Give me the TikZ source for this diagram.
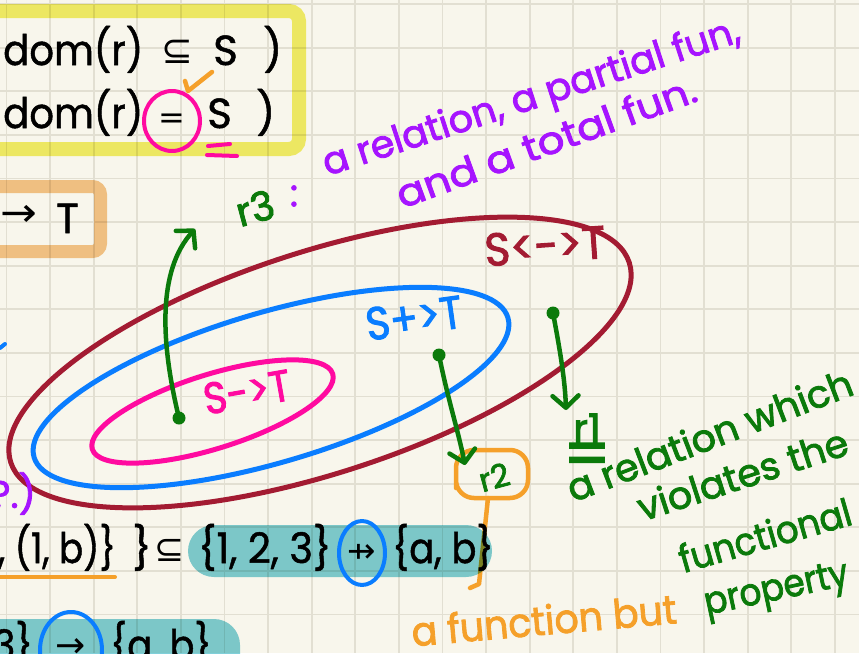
\documentclass[tikz,border=0pt]{standalone}
\usepackage{fontspec}
\setmainfont{Poppins}[FakeBold=1.2]
\newfontfamily\handfont{Poppins}[FakeBold=2.2]
\newfontfamily\symfont{DejaVu Sans}
\usetikzlibrary{arrows.meta}

\definecolor{paper}{HTML}{F8F6EC}
\definecolor{gridline}{HTML}{E2DFD2}
\definecolor{hlyellow}{HTML}{F3F06A}
\definecolor{hlorange}{HTML}{F6C68C}
\definecolor{hlteal}{HTML}{80CFD9}
\definecolor{penred}{HTML}{A31B32}
\definecolor{penblue}{HTML}{0A7DFF}
\definecolor{penpink}{HTML}{FF0AA0}
\definecolor{pengreen}{HTML}{0B7A0B}
\definecolor{penpurple}{HTML}{A614FF}
\definecolor{penorange}{HTML}{F5A02A}

\newcommand{\fsz}[1]{\fontsize{#1}{#1}\selectfont}

\tikzset{
  pen/.style={line width=4.5pt, line cap=round, line join=round},
  hand/.style={inner sep=0pt, font=\handfont\fsz{38}},
  typed/.style={inner sep=0pt, font=\fsz{42}, text=black},
  relarrow/.style={pen, draw=pengreen, -{Straight Barb[round,length=12pt,width=26pt]}},
  marker/.style={blend mode=multiply},
}

\begin{document}
\begin{tikzpicture}[x=1pt,y=-1pt]
\useasboundingbox (0,0) rectangle (859,653);
\clip (0,0) rectangle (859,653);
\fill[paper] (0,0) rectangle (859,653);
\foreach \i in {0,...,19}
  \draw[gridline, line width=1.8pt] ({6.5+43.6*\i},0) -- ({6.5+43.6*\i},653);
\foreach \j in {0,...,14}
  \draw[gridline, line width=1.8pt] (0,{4+43.6*\j}) -- (859,{4+43.6*\j});

\draw[marker, hlyellow, line width=14pt, rounded corners=10pt] (-30,11) rectangle (299,149);
\draw[marker, hlorange, line width=13pt, rounded corners=8pt] (-30,186.5) rectangle (100.5,251.5);

\coordinate (blobfoot) at (488,498);
\coordinate (blobend) at (479,584);
\draw[pen, penorange] (456,474) -- (456,488) [rounded corners=18pt] -- (456,498) -- (528,498) -- (528,450) -- (456,450) -- (456,474);
\draw[pen, penorange] (blobfoot) -- (blobend) -- (470,588);

\fill[marker, hlteal, rounded corners=26pt] (188,525) rectangle (492,577);
\fill[marker, hlteal, rounded corners=26pt] (-30,619) rectangle (240,700);

\node[typed, anchor=base west, xscale=0.92] (dom1) at (3,65) {dom(r)};
\node[typed, font=\symfont\fsz{38}] (sub1) at (177,52) {⊆};
\node[typed, anchor=base west] (s1) at (213,65) {S};
\node[typed, anchor=base west] (close1) at (263,65) {)};
\node[typed, anchor=base west, xscale=0.92] (dom2) at (3,128) {dom(r)};
\node[typed, font=\symfont\fsz{32}] (eq2) at (172,121) {=};
\node[typed, anchor=base west] (s2) at (207,128) {S};
\node[typed, anchor=base west] (close2) at (256,128) {)};
\node[typed, font=\symfont\fsz{40}, xscale=1.1] (arrT) at (19,216) {→};
\node[typed, anchor=base west] (tT) at (56,233) {T};

\node[typed, anchor=base west, xscale=0.85] (pairb) at (-2,563) {, (1, b)\}};
\node[typed, anchor=base west] (closeset) at (132,563) {\}};
\node[typed, font=\symfont\fsz{36}] (sub2) at (170,550) {⊆};
\node[typed, anchor=base west, xscale=0.95] (dom3) at (198,563) {\{1, 2, 3\}};
\node[typed, font=\symfont\fsz{34}] (pfun) at (362,553) {⇸};
\node[typed, anchor=base west, xscale=0.88] (codom) at (392,563) {\{a, b\}};
\node[typed, anchor=base east, xscale=0.9] (three) at (33,660) {3\}};
\node[typed, font=\symfont\fsz{36}] (tfun) at (71,648) {→};
\node[typed, anchor=base west, xscale=0.88] (codomb) at (110,660) {\{a, b\}};

\draw[pen, penpink, line width=4pt] (eq2) ellipse (28 and 30);
\draw[pen, penorange] (185,81) -- (188,91) -- (212,72);
\draw[pen, penpink, line width=4pt] (208,146) -- (230,144);
\draw[pen, penpink, line width=4pt] (207,155) -- (237,156);
\draw[pen, penblue, line width=4pt] (pfun) ellipse (23 and 32);
\draw[pen, penblue, line width=4pt] (71,650) ellipse (31 and 38);
\draw[pen, penorange, line width=4pt] (0,577) -- (115,577);
\draw[pen, penblue, line width=4pt] (0,348) -- (5,344);

\draw[pen, penred, line width=5pt, rotate around={17.9:(320,362.5)}] (320,362.5) ellipse (325 and 111);
\draw[pen, penblue, line width=5pt, rotate around={16.4:(271,387.5)}] (271,387.5) ellipse (247 and 75);
\draw[pen, penpink, line width=5pt, rotate around={17.4:(212.5,411.5)}] (212.5,411.5) ellipse (126 and 37);

\node[hand, text=penred, font=\handfont\fsz{46}, rotate=4, xscale=0.95] (relT) at (545,246) {S<->T};
\node[hand, text=penblue, font=\handfont\fsz{46}, rotate=8, xscale=0.9] (pfunT) at (414,318) {S+>T};
\node[hand, text=penpink, font=\handfont\fsz{44}, rotate=10, xscale=0.9] (tfunT) at (247,392) {S->T};

\coordinate (r3dot) at (179,418);
\coordinate (r3tip) at (195,229);
\coordinate (r2dot) at (439,355);
\coordinate (r2tip) at (465,465);
\coordinate (r1dot) at (553,313);
\coordinate (r1tip) at (566,410);
\draw[relarrow] (r3dot) .. controls (160,340) and (158,270) .. (r3tip);
\draw[relarrow] (r2dot) .. controls (448,400) and (458,430) .. (r2tip);
\draw[relarrow] (r1dot) .. controls (560,350) and (565,380) .. (r1tip);
\fill[pengreen] (r3dot) circle (6.5);
\fill[pengreen] (r2dot) circle (6.5);
\fill[pengreen] (r1dot) circle (6.5);

\node[hand, text=penpurple, rotate=18, anchor=mid] (relfun) at (534,106) {a relation, a partial fun,};
\node[hand, text=penpurple, rotate=20, anchor=mid, xscale=1.1] (totfun) at (550,152) {and a total fun.};
\node[hand, text=penpurple] (colon) at (294,196) {:};
\node[hand, text=pengreen, font=\handfont\fsz{40}, rotate=15] (r3lab) at (255,208) {r3};
\node[hand, text=pengreen, font=\handfont\fsz{32}, rotate=15] (r2lab) at (494,477) {r2};
\node[hand, text=pengreen, font=\handfont\fsz{40}] (r1lab) at (587,428) {r1};
\node[hand, text=pengreen, font=\handfont\fsz{66}] (r1eq) at (587,460) {=};
\node[hand, text=pengreen, rotate=21, anchor=mid west] (viol1) at (572,500) {a relation which};
\node[hand, text=pengreen, rotate=18, anchor=mid] (viol2) at (746,485) {violates the};
\node[hand, text=pengreen, rotate=16, anchor=mid, xscale=0.93] (viol3) at (768,546) {functional};
\node[hand, text=pengreen, rotate=12, anchor=mid, xscale=0.9] (viol4) at (778,597) {property};
\node[hand, text=penorange, font=\handfont\fsz{40}, rotate=5, anchor=mid, xscale=0.95] (fnbut) at (545,632) {a function but};
\node[hand, text=penpurple, anchor=mid east] (qmark) at (36,505) {?.)};
\end{tikzpicture}
\end{document}
